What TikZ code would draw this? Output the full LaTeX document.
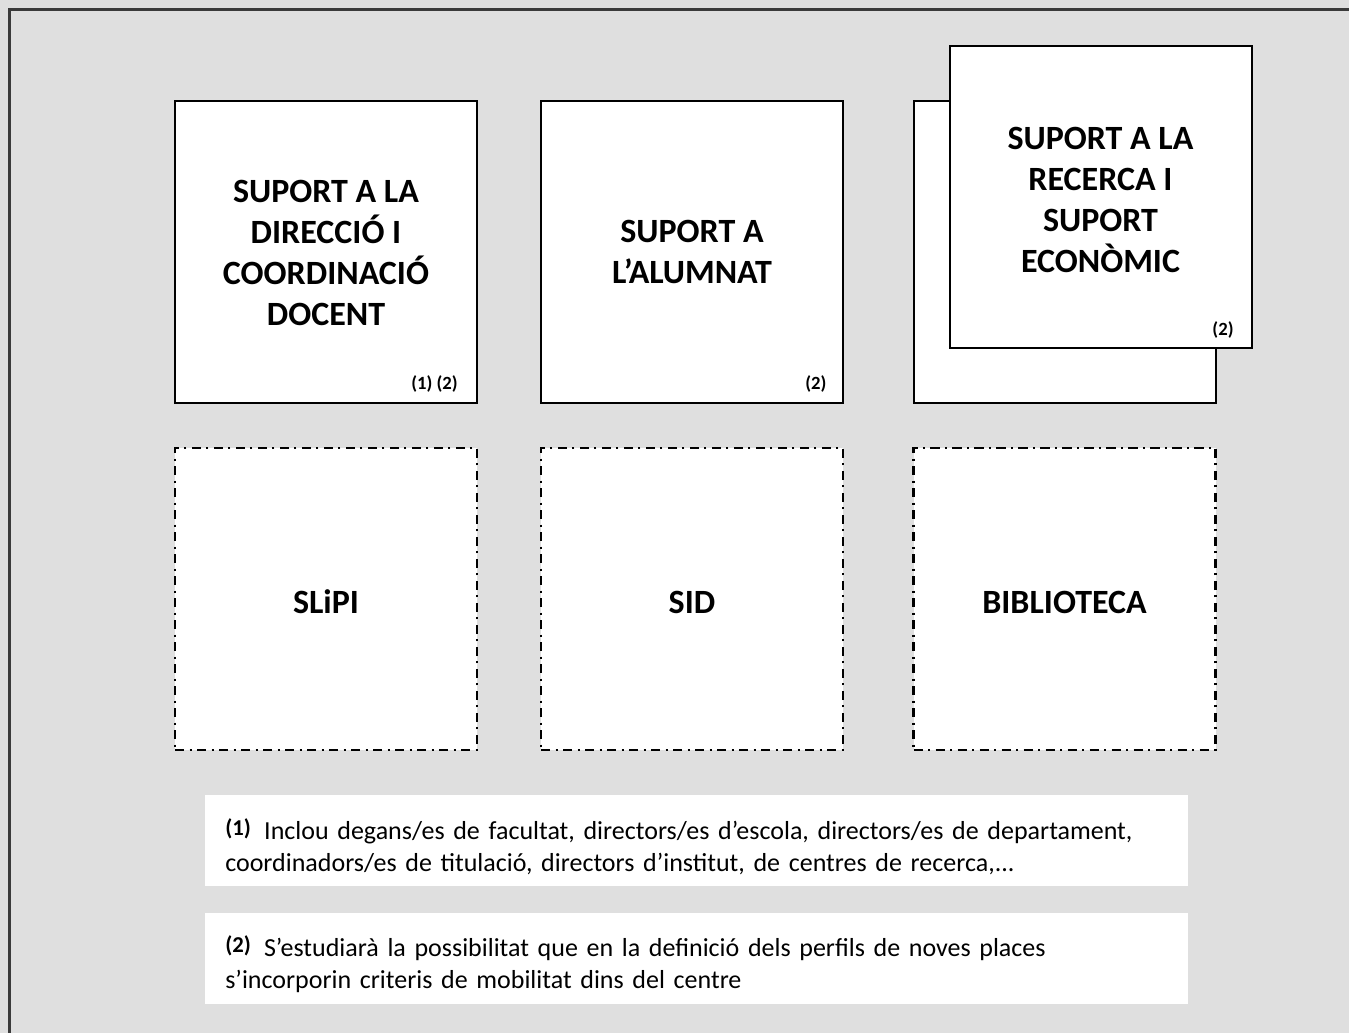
\documentclass[tikz,border=0pt]{standalone}
\usepackage{fontspec}
\setmainfont{Carlito}
\usetikzlibrary{positioning}
\definecolor{bggray}{HTML}{DFDFDF}
\definecolor{framegray}{HTML}{3A3A3A}
\tikzset{
    unitbox/.style={draw, line width=1.5pt, fill=white, minimum width=226.5pt,
        minimum height=226.5pt, inner sep=0pt, align=center,
        font=\bfseries\fontsize{25.5}{30.75}\selectfont},
    servicebox/.style={unitbox, line width=1.6pt, text height=22pt, text depth=0pt,
        dash pattern=on 7pt off 4pt on 1.5pt off 4pt},
    reftag/.style={anchor=base east, inner sep=0pt,
        font=\bfseries\fontsize{14}{16}\selectfont},
    footbox/.style={fill=white, anchor=north west, minimum width=737pt,
        minimum height=68.25pt, text width=707pt, inner xsep=15pt, align=left,
        font=\fontsize{19.5}{24}\selectfont}
}
% title block pushed down a little inside its box
\newcommand{\dropped}[2]{\raisebox{-#1}[\height][\depth]{\begin{tabular}{@{}c@{}}#2\end{tabular}}}
\newcommand{\notenum}[1]{\rule{0pt}{24pt}\raisebox{3pt}{\bfseries\fontsize{17}{17}\selectfont(#1)}\hspace{10pt}}
\begin{document}
\begin{tikzpicture}[x=0.75pt, y=-0.75pt]
    \useasboundingbox (0,0) rectangle (1349,1032);
    \fill[bggray] (-20,-20) rectangle (1420,1100);
    \draw[framegray, line width=2.2pt] (9.5,1100) -- (9.5,9.5) -- (1420,9.5);
    % top row: units
    \node[unitbox] (direccio) at (326,251.5) {\dropped{3pt}{SUPORT A LA\\DIRECCI\'O I\\COORDINACI\'O\\DOCENT}};
    \node[unitbox] (alumnat) at (692,251.5) {SUPORT A\\L'ALUMNAT};
    \node[unitbox] (recercaback) at (1064.5,251.5) {};
    \node[unitbox] (recerca) at (1100.5,197) {\dropped{4.5pt}{SUPORT A LA\\RECERCA I\\SUPORT\\ECON\`OMIC}};
    \node[reftag] (tagdir) at ([xshift=-15pt,yshift=10.5pt]direccio.south east) {(1) (2)};
    \node[reftag] (tagalu) at ([xshift=-13pt,yshift=10.5pt]alumnat.south east) {(2)};
    \node[reftag] (tagrec) at ([xshift=-14pt,yshift=10.5pt]recerca.south east) {(2)};
    % bottom row: services
    \foreach \x/\name/\txt in {326/slipi/SLiPI, 692/sid/SID, 1064.5/biblio/BIBLIOTECA}
        \node[servicebox] (\name) at (\x,599) {\txt};
    % notes
    \node[footbox] (nota1) at (205,795) {\notenum{1}Inclou degans/es de facultat, directors/es d'escola, directors/es de departament,\\
        coordinadors/es de titulaci\'o, directors d'institut, de centres de recerca,...};
    \node[footbox] (nota2) at (205,913) {\notenum{2}S'estudiar\`a la possibilitat que en la definici\'o dels perfils de noves places\\
        s'incorporin criteris de mobilitat dins del centre};
\end{tikzpicture}
\end{document}
